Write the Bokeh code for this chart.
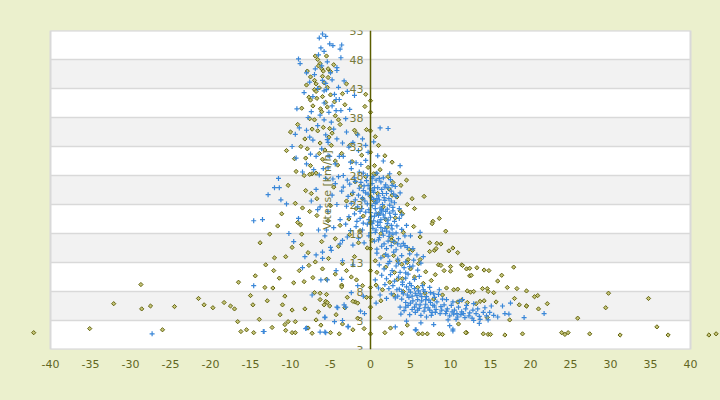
from bokeh.plotting import figure
from bokeh.models import Range1d, FixedTicker, LinearAxis, Label
from bokeh.embed import file_html
from bokeh.resources import INLINE

# ---------------- data (pente %, vitesse km/h) ----------------
blue_top = [(-6.0,52.4),(-5.6,52.0),(-6.4,51.7),(-5.1,50.7),(-4.7,50.4),(-3.6,50.5),(-6.2,50.0),(-5.8,49.4),
    (-3.8,49.8),(-9.0,48.1),(-8.8,47.3),(-3.7,48.3),(-4.2,46.6),(-4.2,46.1),(-8.0,45.7),(-7.0,45.4),(-6.9,46.4),
    (-5.0,45.7),(-6.0,44.4),(-5.6,43.9),(-5.5,42.8),(-5.8,42.6),(-4.8,44.5),(-2.9,42.5),(-2.0,41.8),(-4.3,41.1),
    (-3.9,41.1),(-5.8,40.5),(-4.8,40.0),(-4.3,39.2),(-3.7,39.2),(-2.6,39.4),(-7.4,39.0),(-9.2,39.5),(-5.8,37.6),
    (-4.9,37.2),(-6.6,43.0),(-7.2,41.6),(-6.3,38.4),(-5.2,38.9),(-4.0,43.2),(-5.4,47.6),(-6.5,48.8),(-7.6,44.1),
    (-3.3,44.3),(-6.1,46.9),(-4.5,42.0),(-8.3,42.3),(-7.8,38.0),(-3.1,37.8)]
blue_mid = [(-8.9,36.2),(-8.0,35.8),(-9.4,35.1),(-7.6,34.6),(-7.2,34.1),(-5.6,35.0),(-5.4,34.2),(-5.3,33.7),
    (-4.2,34.3),(-3.5,33.6),(-2.7,32.9),(-2.2,33.7),(-1.0,34.3),(-0.6,33.2),(-6.1,32.6),(-7.5,31.7),(-6.8,31.3),
    (-5.3,31.4),(-5.1,31.3),(-3.9,31.3),(-3.4,31.3),(-2.5,30.3),(-1.8,30.2),(-1.2,29.9),(-0.6,30.6),(-0.3,32.0),
    (-8.0,30.0),(-5.9,29.2),(-5.3,29.3),(-2.4,29.2),(-1.4,28.6),(-0.9,28.4),(-0.4,28.0),(0.3,27.8),(0.8,28.4),
    (3.7,29.7),(-11.5,27.5),(1.2,36.2),(2.2,36.1),(-9.8,33.0),(-4.6,36.0),(-6.6,36.6),(-3.0,35.5),(-1.6,35.0),
    (-4.4,30.0),(-6.4,28.1),(-7.1,29.0),(-3.4,28.0),(-2.0,27.6),(-4.7,27.4),(-9.3,31.0),(-8.5,28.6),(0.9,31.4),
    (0.4,33.8),(-1.5,32.3),(1.6,30.5),(2.4,28.3),(-2.9,27.2),(-5.6,27.5)]
blue_core = [(-2.6,26.5),(-1.9,27.0),(-1.2,26.8),(-0.5,27.1),(0.2,26.6),(0.7,27.2),(1.3,26.9),(1.9,26.4),
    (2.5,27.3),(-0.8,26.2),(0.5,25.9),(1.6,27.6),(-3.4,26.0),(-4.4,26.6),(3.1,26.1),
    (-2.2,25.1),(-1.5,24.6),(-0.9,25.4),(-0.3,24.8),(0.4,25.1),(1.0,24.5),(1.4,25.6),(2.0,24.9),(2.6,25.3),
    (3.2,24.4),(-0.1,25.7),(0.9,25.9),(1.7,24.2),(2.3,24.0),(-1.0,24.1),(-2.8,24.4),(-3.6,25.3),(3.7,25.0),
    (-0.6,25.0),(0.1,24.2),
    (-2.4,23.2),(-1.6,22.6),(-0.7,23.6),(0.2,22.8),(0.8,23.4),(1.2,22.4),(1.8,23.7),(2.4,22.9),(3.0,23.3),
    (-0.2,22.1),(0.6,22.3),(1.5,23.0),(2.1,22.2),(2.8,22.5),(-1.1,22.3),(0.4,23.9),(1.1,23.8),(-3.0,22.7),
    (3.6,22.3),(-0.4,23.1),
    (-2.0,21.4),(-1.3,20.6),(-0.6,21.7),(0.1,20.9),(0.7,21.5),(1.3,20.4),(1.9,21.8),(2.5,20.8),(3.1,21.3),
    (0.4,20.2),(1.0,21.1),(1.6,21.2),(2.2,20.3),(2.8,21.9),(-0.2,20.4),(-1.7,20.1),(3.6,20.6),(0.9,20.0),
    (1.4,21.9),(-2.7,20.9),
    (-1.8,19.2),(-1.0,18.6),(-0.4,19.6),(0.3,18.9),(0.9,19.4),(1.5,18.4),(2.1,19.7),(2.7,18.8),(3.3,19.3),
    (0.6,18.2),(1.2,19.9),(1.8,18.9),(2.4,18.1),(-2.5,18.5),(3.9,18.7),(0.0,18.1),(-3.1,19.6),
    (-1.5,17.2),(-0.8,16.4),(-0.2,17.6),(0.5,16.7),(1.1,17.3),(1.7,16.2),(2.3,17.5),(2.9,16.6),(3.5,17.1),
    (1.4,15.8),(2.0,15.4),(2.6,15.9),(3.2,15.2),(-2.2,16.0),(0.8,15.3),(4.1,16.3),(4.6,15.6),(-2.9,17.4),
    (-4.8,24.6),(-4.2,23.0),(-5.3,21.8),(-3.8,20.4),(-4.6,19.0),(-5.7,17.6),(-3.5,16.8),(-6.3,22.6),
    (-4.0,27.8),(-6.8,25.6),(-7.4,23.6),(-5.0,15.6),(-6.0,14.8)]
blue_core2 = [(0.3,25.4),(0.8,24.0),(1.5,24.9),(2.2,25.9),(2.9,24.8),(0.6,23.2),(1.4,22.1),(2.6,23.6),(0.0,21.6),
    (0.5,21.0),(1.2,21.5),(1.8,20.7),(2.4,21.5),(3.0,20.1),(0.2,19.7),(0.7,18.6),(1.3,19.0),(2.0,18.4),(2.6,19.4),
    (3.2,18.1),(1.0,16.9),(1.6,17.7),(2.2,16.7),(2.8,17.9),(3.4,16.2),(1.8,26.0),(2.7,26.3),(-0.3,26.3),(1.1,27.5),
    (0.2,27.5),(-1.4,25.8),(-1.9,23.8),(-1.3,21.8),(-0.9,19.8),(3.9,21.2),(4.3,17.6),(3.8,15.8),(2.2,14.1),
    (3.5,12.9),(4.9,12.3)]
blue_left = [(-12.0,25.9),(-11.4,25.9),(-12.8,24.7),(-11.2,23.8),(-10.5,23.1),(-14.6,20.2),(-13.5,20.4),
    (-14.6,9.0),(-8.5,12.1),(-13.4,1.1),(-8.0,1.7),(-6.3,1.0),(-5.7,1.0),(-27.3,0.7),(-13.3,1.1),(-8.1,1.6),
    (-5.7,3.5),(-5.6,0.9),(-4.5,2.8),(-4.1,5.2),(-3.3,5.7),(-2.8,1.9),(-6.6,22.1),(-6.5,18.6),(-5.5,18.6),
    (-4.9,15.1),(-6.8,14.3),(-6.0,13.7),(-3.8,16.2),(-3.5,13.3),(-4.3,11.6),(-5.4,10.0),(-6.2,10.0),(-3.6,10.1),
    (-4.2,5.3),(-3.1,5.3),(-2.8,2.0),(-1.25,4.6),(-0.75,4.2),(-5.7,3.6),(-3.5,3.0),(-9.6,16.6),(-8.2,14.0),
    (-2.2,12.6),(-1.6,9.0),(-0.9,7.2),(-2.4,7.8),(-7.3,7.4),(-9.0,20.6),(-10.2,18.0)]
blue_drop = [(0.8,14.6),(1.3,13.8),(1.9,14.4),(2.4,13.2),(2.9,14.8),(3.4,13.6),(3.9,14.2),(4.4,13.1),(4.9,14.5),
    (5.4,13.4),(5.8,14.3),(1.1,12.6),(1.7,11.9),(2.2,12.8),(2.7,11.6),(3.2,12.4),(3.7,11.3),(4.2,12.1),(4.7,11.0),
    (5.3,12.4),(5.9,11.7),(6.3,12.9),(1.4,10.8),(2.0,10.2),(2.5,10.9),(3.0,9.8),(3.5,10.5),(4.0,9.6),(4.4,10.3),
    (4.9,9.4),(5.5,10.1),(1.8,9.2),(2.3,8.5),(2.8,9.0),(3.3,8.3),(1.0,8.6),(0.6,10.0),(1.2,7.4),(2.0,6.8),
    (2.6,7.6),(3.1,6.9),(0.7,6.0),(5.3,15.4),(4.3,15.9),(6.6,14.0),(6.1,10.6),(4.4,11.2),(6.2,18.2),(5.0,17.6),
    (4.5,19.4)]
blue_tail = [(3.6,8.4),(4.1,7.6),(4.5,8.8),(5.0,7.9),(5.5,8.5),(3.9,6.7),(4.4,6.1),(4.8,7.0),(5.3,6.4),(5.8,7.3),
    (3.7,5.3),(4.2,4.7),(4.7,5.6),(5.2,4.9),(5.7,5.8),(6.0,8.1),(3.4,7.2),(4.0,9.2),(5.1,9.0),(3.8,4.1),(4.9,4.0),
    (5.6,4.4),(6.2,7.6),(6.6,8.3),(7.0,7.1),(7.5,7.8),(8.0,7.0),(8.5,7.5),(6.4,6.4),(6.9,5.8),(7.3,6.5),(7.8,5.6),
    (8.3,6.2),(8.8,5.4),(6.1,5.1),(6.7,4.6),(7.2,5.2),(7.7,4.4),(8.2,4.9),(8.7,4.2),(6.3,3.9),(7.0,3.6),(7.6,3.9),
    (9.0,6.7),(8.6,8.3),(6.5,9.0),(7.4,8.7),(9.2,5.7),(9.6,5.0),(10.1,5.6),(10.5,4.8),(11.0,5.3),(11.4,4.5),
    (11.9,5.0),(12.4,4.3),(12.8,4.8),(9.4,4.2),(9.9,3.8),(10.4,4.1),(10.9,3.6),(11.3,4.0),(11.8,3.5),(12.3,3.8),
    (12.7,3.4),(9.5,6.6),(10.3,6.2),(11.1,6.3),(11.5,6.6),(12.0,5.6),(9.7,3.1),(10.7,3.2),(13.2,4.2),(13.6,3.7),
    (14.1,4.4),(14.5,3.8),(14.9,4.4),(15.4,3.9),(15.9,3.6),(16.5,5.5),(15.1,5.5),(16.8,4.2),(17.3,4.1),(13.4,5.0),
    (14.3,5.2),(12.9,5.9),(13.7,3.2),(14.7,3.1),(12.9,3.0),(17.5,6.0),(19.2,3.5),(21.7,4.2),(5.6,1.4),(10.3,1.2),
    (9.9,2.1),(3.1,1.9),(5.7,1.4),(10.3,1.5),(6.3,2.6),(7.9,2.3),(13.6,2.5),(4.5,2.9)]
blue_tail2 = [(4.6,7.4),(5.2,7.2),(5.9,6.6),(6.4,7.1),(6.9,6.6),(7.5,6.1),(8.0,5.5),(5.0,6.0),(5.5,5.3),(6.2,5.7),
    (6.8,5.2),(7.4,4.8),(8.1,4.4),(8.9,4.8),(4.4,5.3),(5.9,4.8),(9.5,4.6),(10.2,4.5),(10.8,4.2),(11.6,4.2),
    (3.9,8.0),(4.8,8.3),(5.6,7.7),(6.8,8.0),(7.9,7.6)]

olive_top = [(-6.9,48.6),(-5.5,48.6),(-6.3,47.3),(-6.5,46.9),(-6.1,46.4),(-5.9,46.0),(-5.3,46.4),(-5.0,45.9),
    (-7.5,45.0),(-7.0,44.4),(-6.8,43.8),(-6.4,43.1),(-7.0,42.8),(-6.8,42.5),(-5.4,43.2),(-5.0,41.9),(-3.5,42.1),
    (-3.0,43.8),(-0.6,42.0),(-0.7,39.9),(-7.7,41.5),(-7.5,41.0),(-6.7,41.3),(-6.0,41.6),(-6.25,39.5),(-6.1,39.0),
    (-5.4,39.8),(-4.4,38.3),(-4.0,37.6),(-7.6,37.8),(-7.0,37.6),(-5.9,36.3),(-5.1,36.1),(-4.8,35.3),(-7.3,36.0),
    (-6.6,35.7),(-10.0,35.5),(-9.5,30.9),(-10.5,32.3),(-8.1,31.0),(-7.5,29.7),(-7.3,28.3),(-6.8,28.4),(-4.4,30.5),
    (-4.1,29.8),(-2.6,33.2),(-2.0,35.8),(-1.7,35.2),(-0.5,35.9),(0.6,34.7),(1.0,33.2),(0.5,29.7),(0.7,28.3),
    (-8.6,39.6),(-8.2,34.3),(-6.3,33.6),(-5.7,32.4),(-4.9,33.2),(-3.6,31.8),(-8.7,33.0),(-9.1,36.8),(-5.3,44.9),
    (-4.6,47.1),(-7.9,46.0),(-6.0,45.1),(-5.6,40.6),(-4.5,40.7),(-7.2,40.0),(-3.8,36.8),(-5.2,34.6),(-6.0,30.8),
    (-3.2,40.2),(-8.0,43.6),(-6.6,48.0),(-5.8,44.0),(-2.3,30.4),(-1.1,31.5),(-9.3,28.7),(-6.4,31.8),(-7.9,32.6)]
olive_mid = [(-12.6,17.9),(-8.6,17.9),(-9.1,19.9),(-8.75,19.5),(-8.6,16.1),(-12.0,13.8),(-10.6,14.0),(-13.1,12.6),
    (-12.1,11.6),(-7.8,14.7),(-7.7,12.5),(-6.9,13.1),(-9.6,9.5),(-8.3,9.7),(-12.2,8.6),(-10.7,7.2),(-7.0,7.8),
    (-6.3,7.7),(-5.5,7.5),(-6.3,6.6),(-5.5,10.1),(-3.6,9.1),(-3.6,8.8),(-2.9,7.0),(-1.9,6.2),(-1.6,6.0),(-5.6,6.3),
    (-8.3,28.0),(-7.6,28.2),(-8.1,25.4),(-7.4,24.9),(-6.7,24.0),(-8.5,22.4),(-7.6,21.8),(-6.7,21.1),(-5.3,20.2),
    (-5.0,22.8),(-3.0,23.6),(-4.0,15.8),(-5.25,13.7),(-3.5,12.8),(-3.0,11.6),(-2.4,10.5),(-1.75,10.0),(-1.0,9.0),
    (-10.3,26.3),(-9.4,23.2),(-11.1,21.4),(-4.6,26.0),(-3.8,19.4),(-2.6,17.8),(-4.4,17.1),(-6.1,16.6),(-9.8,15.6),
    (-11.4,10.3),(-4.4,11.0),(-6.0,11.9),(-7.2,10.4),(-8.9,11.6),(-2.0,14.0),(-13.8,16.4),(-11.6,19.3),(-14.4,10.7)]
olive_core = [(-1.9,26.9),(-1.25,26.2),(-0.6,27.8),(0.4,23.7),(0.9,24.9),(1.0,21.4),(1.6,22.6),(2.1,19.1),
    (2.3,25.7),(2.8,26.8),(0.4,28.3),(1.2,29.0),(-0.3,29.4),(-2.7,20.5),(-1.8,22.3),(-0.9,21.0),(0.2,16.8),
    (1.3,18.0),(1.7,14.2),(2.9,14.2),(0.8,11.3),(-0.5,7.0),(3.3,24.3),(3.8,26.3),(3.1,20.7),(2.6,17.3),
    (-1.3,18.5),(-0.4,15.5),(0.6,13.3),(1.9,12.2),(2.4,9.6),(1.5,8.3),(0.7,9.1),(3.0,11.3),(2.2,27.8),(-1.0,24.0),
    (0.0,20.0),(1.9,20.4),(-2.3,24.8),(3.6,28.4),(4.5,27.2),(2.7,30.3),(1.8,31.4),(-1.5,16.4),(3.9,12.7),
    (3.4,10.1),(4.1,8.0),(1.3,6.4),(2.9,7.4),(3.7,21.9)]
olive_right = [(2.7,24.6),(4.0,21.4),(4.6,23.0),(5.2,24.0),(5.5,22.3),(7.8,20.1),(5.4,19.2),(4.1,18.2),(2.6,16.8),
    (3.0,16.5),(7.4,16.4),(8.0,15.1),(7.4,14.9),(8.3,16.3),(5.25,15.1),(4.7,13.5),(3.4,13.3),(6.0,12.8),(5.0,11.9),
    (4.0,10.2),(8.8,16.2),(10.3,15.5),(9.8,15.0),(10.9,14.7),(8.2,15.4),(4.8,15.3),(6.2,13.5),(4.6,13.0),
    (8.5,12.6),(8.8,12.5),(10.0,12.3),(11.4,12.6),(9.2,11.6),(10.0,11.5),(12.0,11.9),(12.4,12.0),(13.3,12.1),
    (14.2,11.7),(14.8,11.6),(12.4,10.7),(15.9,9.8),(18.3,8.5),(19.5,8.1),(20.9,7.3),(20.5,7.1),(19.5,5.5),
    (5.5,10.5),(9.5,8.6),(10.4,8.3),(10.9,8.4),(12.1,8.1),(12.5,7.9),(12.9,8.0),(14.0,8.5),(14.6,8.5),(14.7,8.0),
    (15.4,7.8),(14.2,6.4),(13.7,6.3),(15.7,6.2),(10.9,6.2),(11.4,6.5),(12.1,6.1),(13.2,5.9),(14.6,3.5),(8.6,20.6),
    (6.7,24.4),(6.2,17.4),(9.4,18.4),(6.6,9.4),(7.6,9.9),(8.1,10.9),(6.9,11.4),(16.4,10.8),(17.9,12.2),(17.1,8.7),
    (29.75,7.7),(34.75,6.8),(18.0,6.8),(21.0,5.0),(18.6,5.7),(7.9,6.7),(6.8,7.7),(9.0,7.4),(5.9,8.7),(7.7,19.7),
    (11.5,12.5),(12.6,10.8)]
olive_low = [(-42.1,0.9),(-35.1,1.6),(-32.1,5.9),(-28.6,5.0),(-27.5,5.5),(-26.0,1.4),(-24.5,5.4),(-20.8,5.7),
    (-19.7,5.2),(-18.3,6.1),(-17.5,5.5),(-17.0,5.0),(-16.6,2.8),(-16.2,1.1),(-15.5,1.4),(-14.7,5.7),(-14.6,0.9),
    (-11.3,4.0),(-11.0,5.7),(-10.7,2.3),(-10.6,1.3),(-10.3,2.8),(-9.8,4.8),(-9.8,0.9),(-9.4,2.8),(-9.4,0.9),
    (-8.2,5.0),(-7.8,1.7),(-6.8,3.1),(-6.5,4.5),(-5.8,5.7),(-5.4,6.1),(-5.1,5.5),(-5.0,0.9),(-4.3,4.0),(-3.5,2.4),
    (-3.2,5.2),(-2.2,1.4),(-2.2,6.3),(2.5,1.7),(6.0,0.7),(6.5,0.7),(7.1,0.7),(8.6,0.7),(9.0,0.6),(12.0,0.9),
    (14.1,0.7),(14.7,0.6),(15.0,0.6),(16.8,0.5),(19.0,0.7),(23.9,0.9),(24.3,0.6),(24.7,0.9),(27.4,0.7),(31.2,0.5),
    (35.8,1.9),(37.2,0.5),(42.3,0.5),(43.2,0.7),(29.4,5.2),(19.5,5.5),(11.9,0.9),(-28.7,9.2),(-16.5,9.6),
    (-13.2,8.7),(-15.0,7.3),(-12.9,6.4),(-21.5,6.8),(-13.9,3.2),(-12.3,1.8),(-7.3,0.8),(-3.9,0.7),(-6.2,2.2),
    (-1.6,3.4),(-0.8,1.6),(1.2,3.5),(1.8,0.9),(3.9,0.8),(4.6,2.2),(11.0,2.4),(17.4,3.1),(22.1,5.9),(25.9,3.4)]
olive_axis = [(0.0,0.7),(0.0,5.3),(0.0,7.0),(0.0,8.7),(0.0,11.6),(0.0,15.4),(0.0,19.8),(0.0,24.4),(0.0,32.0),
    (0.0,35.7),(0.0,38.9),(0.0,40.9)]

y_ticks = [-2, 3, 8, 13, 18, 23, 28, 33, 38, 43, 48, 53]
y_tick_text = ["3", "3", "8", "13", "18", "23", "28", "33", "38", "43", "48", "53"]
x_ticks = [-40, -35, -30, -25, -20, -15, -10, -5, 0, 5, 10, 15, 20, 25, 30, 35, 40]

blue_pts = blue_top + blue_mid + blue_core + blue_core2 + blue_left + blue_drop + blue_tail + blue_tail2
olive_pts = olive_top + olive_mid + olive_core + olive_right + olive_low + olive_axis
blue_x = [a for a, b in blue_pts]; blue_y = [b for a, b in blue_pts]
olive_x = [a for a, b in olive_pts]; olive_y = [b for a, b in olive_pts]

# ---------------- styling ----------------
BG = "#ebf0cd"
BAND = "#f2f2f2"
GRID = "#d9d9d9"
TXT = "#62661f"
YTXT = "#777a3a"
AXIS = "#5b5e00"
BLUE = "#3a87d8"
OLIVE = "#585800"
OLIVE_FILL = "#c4c478"
FONT = "DejaVu Sans"

p = figure(width=720, height=400, output_backend="svg", toolbar_location=None,
           x_range=Range1d(-46.25, 43.75), y_range=Range1d(-2, 53),
           x_axis_location=None, y_axis_location=None,
           min_border_left=0, min_border_right=0, min_border_top=30, min_border_bottom=51)
p.background_fill_color = BG
p.border_fill_color = BG
p.outline_line_color = None
p.grid.visible = False

band_bottom = y_ticks[:-1]
band_top = y_ticks[1:]
band_colors = ["#ffffff" if i % 2 == 0 else BAND for i in range(len(band_bottom))]
p.quad(left=-40, right=40, bottom=band_bottom, top=band_top, fill_color=band_colors, line_color=None)
p.segment(x0=-40, x1=40, y0=y_ticks, y1=y_ticks, line_color=GRID, line_width=1.5)
p.quad(left=[-40], right=[40], bottom=[-2], top=[53], fill_color=None, line_color=GRID, line_width=2)

p.scatter(olive_x, olive_y, marker="square", angle=0.785, size=3, fill_color=OLIVE_FILL,
          line_color=OLIVE, line_width=0.9)
p.scatter(blue_x, blue_y, marker="cross", size=5, line_color=BLUE, line_width=1.2)

yax = LinearAxis(fixed_location=0, ticker=FixedTicker(ticks=y_ticks),
                 major_label_overrides={t: s for t, s in zip(y_ticks, y_tick_text)},
                 axis_line_color=AXIS, axis_line_width=1.5,
                 major_tick_line_color=None, minor_tick_line_color=None,
                 major_tick_in=0, major_tick_out=0,
                 major_label_text_color=YTXT, major_label_text_font=FONT,
                 major_label_text_font_size="11px", major_label_standoff=7,
                 axis_label="Vitesse [km/h]", axis_label_text_color=YTXT,
                 axis_label_text_font=FONT, axis_label_text_font_size="11px",
                 axis_label_text_font_style="normal", axis_label_standoff=13)
p.add_layout(yax, "left")

xax = LinearAxis(ticker=FixedTicker(ticks=x_ticks),
                 major_label_overrides={t: str(t) for t in x_ticks},
                 axis_line_color=None, major_tick_line_color=None, minor_tick_line_color=None,
                 major_tick_in=0, major_tick_out=0,
                 major_label_text_color=TXT, major_label_text_font=FONT,
                 major_label_text_font_size="11px", major_label_standoff=10)
p.add_layout(xax, "below")

p.add_layout(Label(x=40, y=-7.3, text="Pente [%]", text_align="right", text_baseline="middle",
                   text_color=TXT, text_font=FONT, text_font_size="11px"))
p.add_layout(Label(x=-1.25, y=56.45, text="VITESSE vs PENTE", text_align="center",
                   text_baseline="middle", text_color=TXT, text_font=FONT, text_font_size="13px"))

html = file_html(p, INLINE)
html = html.replace("<head>", "<head><style>body{background:#ebf0cd;}</style>", 1)
open("out.html", "w").write(html)
